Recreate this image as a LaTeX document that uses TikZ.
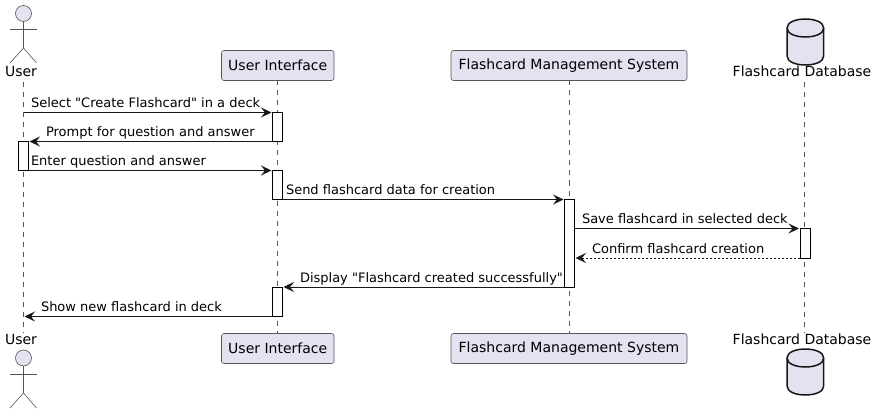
\documentclass[tikz,border=0pt]{standalone}
\usepackage{fontspec}
\setmainfont{DejaVu Sans}[Ligatures=TeXOff]
\usetikzlibrary{arrows.meta}
\definecolor{pfill}{HTML}{E2E2F0}
\definecolor{pline}{HTML}{181818}
\definecolor{pthin}{HTML}{555555}
\tikzset{
  x=1pt,y=-1pt,
  every node/.style={font=\fontsize{14}{16}\selectfont,text=black,inner sep=0pt,outer sep=0pt},
  pbox/.style={draw=pthin,line width=.6pt,fill=pfill,rounded corners=2.5pt,minimum height=30pt,anchor=center},
  lbl/.style={anchor=center,text height=10pt,text depth=3pt},
  msglbl/.style={anchor=base west,font=\fontsize{13}{16}\selectfont},
  life/.style={draw=pthin,line width=.6pt,dash pattern=on 5pt off 5pt},
  actorline/.style={draw=pthin,line width=.6pt},
  actorhead/.style={circle,draw=pthin,line width=.6pt,fill=pfill,minimum size=16pt},
  dbshape/.style={draw=pline,line width=1.5pt,fill=pfill},
  bar/.style={draw=black,line width=1pt,fill=white,minimum width=10pt,anchor=north},
  msg/.style={draw=pline,line width=1pt,-{Stealth[length=10.5pt,width=10pt,inset=4pt]},shorten >=1pt},
  dmsg/.style={msg,dash pattern=on 2pt off 2pt},
}
\newcommand{\dbdraw}[1]{%
  \draw[dbshape] (787,#1+9) .. controls (787,#1-3) and (823.7,#1-3) .. (823.7,#1+9)
    -- (823.7,#1+37) .. controls (823.7,#1+49) and (787,#1+49) .. (787,#1+37) -- cycle;
  \draw[dbshape,fill=none] (787,#1+9) .. controls (787,#1+21) and (823.7,#1+21) .. (823.7,#1+9);
}
\begin{document}
\begin{tikzpicture}
\useasboundingbox (0,0) rectangle (877,414);
% top row
\node[lbl] (ut) at (21,73) {User};
\node[pbox,minimum width=112.5pt] (it) at (277.75,65.5) {User Interface};
\node[pbox,minimum width=236pt] (ft) at (569,65.5) {Flashcard Management System};
\node[lbl] (dt) at (802,73) {Flashcard Database};
% bottom row
\node[lbl] (ub) at (21,341) {User};
\node[pbox,minimum width=112.5pt] (ib) at (277.75,348.5) {User Interface};
\node[pbox,minimum width=236pt] (fb) at (569,348.5) {Flashcard Management System};
\node[lbl] (db) at (802,341) {Flashcard Database};
% lifelines
\coordinate (ua) at (23.5,82);
\coordinate (ue) at (23.5,333);
\coordinate (ia) at (277.5,80.5);
\coordinate (ie) at (277.5,333.5);
\coordinate (fa) at (569.5,80.5);
\coordinate (fe) at (569.5,333.5);
\coordinate (da) at (804.5,82);
\coordinate (de) at (804.5,333);
\draw[life] (ua) -- (ue);
\draw[life] (ia) -- (ie);
\draw[life] (fa) -- (fe);
\draw[life] (da) -- (de);
% actors
\node[actorhead] (h1) at (23.5,13.5) {};
\draw[actorline] (h1.south) -- (23.5,48) -- (10,63);
\draw[actorline] (23.5,48) -- (36.5,63);
\draw[actorline] (10,29) -- (36.5,29);
\node[actorhead] (h2) at (23.5,358) {};
\draw[actorline] (h2.south) -- (23.5,393) -- (10,408);
\draw[actorline] (23.5,393) -- (36.5,408);
\draw[actorline] (10,374) -- (36.5,374);
% databases
\dbdraw{19}
\dbdraw{349}
% activations
\node[bar,minimum height=29pt] (a1) at (277.5,112.5) {};
\node[bar,minimum height=29pt] (a2) at (23.5,141.5) {};
\node[bar,minimum height=29pt] (a3) at (277.5,170.5) {};
\node[bar,minimum height=87.5pt] (a4) at (569.5,199.5) {};
\node[bar,minimum height=29.5pt] (a5) at (805,228.5) {};
\node[bar,minimum height=29.5pt] (a6) at (277.5,287) {};
% messages
\draw[msg] (ua |- a1.north) -- (a1.north west);
\draw[msg] (a1.south west) -- (a2.north east);
\draw[msg] (a2.south east) -- (a3.north west);
\draw[msg] (a3.south east) -- (a4.north west);
\draw[msg] (a4.north east |- a5.north) -- (a5.north west);
\draw[dmsg] (a5.south west) -- (a4.east |- a5.south);
\draw[msg] (a4.south west) -- (a6.north east);
\draw[msg] (a6.south west) -- (ua |- a6.south);
% labels
\node[msglbl] (m1) at (31,107.5) {Select "Create Flashcard" in a deck};
\node[msglbl] (m2) at (46,136.5) {Prompt for question and answer};
\node[msglbl] (m3) at (31,165.5) {Enter question and answer};
\node[msglbl] (m4) at (286,194.5) {Send flashcard data for creation};
\node[msglbl] (m5) at (582,223.5) {Save flashcard in selected deck};
\node[msglbl] (m6) at (592,253) {Confirm flashcard creation};
\node[msglbl] (m7) at (300,282) {Display "Flashcard created successfully"};
\node[msglbl] (m8) at (41,311.5) {Show new flashcard in deck};
\end{tikzpicture}
\end{document}
